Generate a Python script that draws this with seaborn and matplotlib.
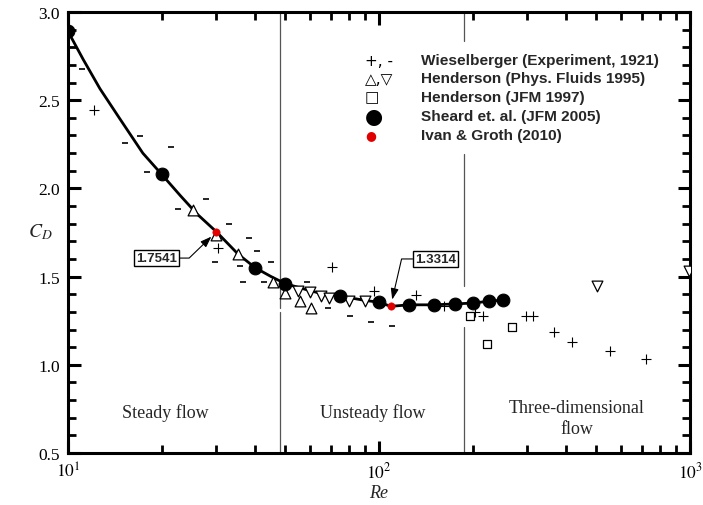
import numpy as np
import pandas as pd
import matplotlib
matplotlib.use("Agg")
import matplotlib.pyplot as plt
import seaborn as sns
from matplotlib.ticker import FixedLocator, NullFormatter, MultipleLocator

# ---------------- data ----------------
sheard_re = [10, 20, 40, 50, 75, 100, 125, 150, 175, 200, 225, 250]
sheard_cd = [2.89, 2.08, 1.55, 1.46, 1.39, 1.355, 1.34, 1.34, 1.345, 1.35, 1.36, 1.367]

ivan_re = [30, 109]
ivan_cd = [1.7541, 1.3314]

curve_re = [10, 11.2, 12.67, 14.7, 17.4, 20, 23, 26, 30, 35.2, 40, 45, 50, 60, 65, 75, 90, 100,
            109, 125, 150, 175, 200, 225, 250]
curve_cd = [2.89, 2.73, 2.565, 2.393, 2.20, 2.08, 1.958, 1.855, 1.7541, 1.628, 1.55, 1.50, 1.46,
            1.42, 1.405, 1.39, 1.365, 1.355, 1.3314, 1.34, 1.34, 1.345, 1.35, 1.36, 1.367]

wies_plus_re = [12.1, 30.4, 70.5, 96.4, 132, 162, 203, 216, 297, 313, 365, 416, 553, 720]
wies_plus_cd = [2.446, 1.664, 1.554, 1.417, 1.397, 1.332, 1.30, 1.275, 1.278, 1.278, 1.184, 1.131,
                1.078, 1.031]

wies_minus_re = [11.07, 15.2, 17.0, 18.0, 21.4, 22.6, 27.8, 33.0, 38.3, 40.5, 29.7, 35.6, 45.0,
                 36.4, 42.7, 58.8, 68.7, 80.7, 89, 94, 110]
wies_minus_cd = [2.677, 2.257, 2.299, 2.095, 2.233, 1.883, 1.94, 1.798, 1.717, 1.643, 1.584, 1.562,
                 1.584, 1.468, 1.468, 1.471, 1.320, 1.278, 1.377, 1.241, 1.222]

hend95_up_re = [25.3, 30, 35.3, 45.5, 50, 55.7, 60.3]
hend95_up_cd = [1.879, 1.736, 1.628, 1.471, 1.407, 1.363, 1.32]

hend95_dn_re = [55, 60, 65, 69.2, 80.3, 90.2, 501, 996]
hend95_dn_cd = [1.42, 1.411, 1.392, 1.379, 1.363, 1.363, 1.448, 1.530]

hend97_re = [196, 222, 267]
hend97_cd = [1.275, 1.116, 1.216]

regime_bounds = [48, 188]
region_labels = ["Steady flow", "Unsteady flow", "Three-dimensional\nflow"]

legend_symbols = ["+, -", "\u25B3,\u25BD", "\u25A1", "\u25CF", "\u25CF"]
legend_labels = ["Wieselberger (Experiment, 1921)", "Henderson (Phys. Fluids 1995)",
                 "Henderson (JFM 1997)", "Sheard et. al. (JFM 2005)", "Ivan & Groth (2010)"]

# ---------------- styling ----------------
sns.set_theme(style="ticks")
plt.rcParams["font.family"] = ["Liberation Serif", "DejaVu Serif"]
plt.rcParams["mathtext.fontset"] = "stix"

fig = plt.figure(figsize=(7.03, 5.06), dpi=100)
ax = fig.add_axes([68 / 703, 52 / 506, 622 / 703, 441 / 506])
ax.set_xscale("log")
ax.set_xlim(10, 1000)
ax.set_ylim(0.5, 3.0)

# regime boundary lines (broken where data / legend sit)
gray = "#555555"
ax.axvline(regime_bounds[0], ymin=(1.32 - 0.5) / 2.5, ymax=1.0, color=gray, lw=0.9, zorder=1)
ax.axvline(regime_bounds[0], ymin=0.0, ymax=(1.30 - 0.5) / 2.5, color=gray, lw=0.9, zorder=1)
ax.axvline(regime_bounds[1], ymin=(2.836 - 0.5) / 2.5, ymax=1.0, color=gray, lw=0.9, zorder=1)
ax.axvline(regime_bounds[1], ymin=(1.447 - 0.5) / 2.5, ymax=(2.195 - 0.5) / 2.5, color=gray, lw=0.9, zorder=1)
ax.axvline(regime_bounds[1], ymin=0.0, ymax=(1.214 - 0.5) / 2.5, color=gray, lw=0.9, zorder=1)

# curve
sns.lineplot(x=curve_re, y=curve_cd, ax=ax, color="black", lw=2.0, zorder=3, sort=True,
             estimator=None)

# Wieselberger
sns.scatterplot(x=wies_plus_re, y=wies_plus_cd, ax=ax, marker="+", s=60, color="black",
                linewidth=0.8, zorder=4)
sns.scatterplot(x=wies_minus_re, y=wies_minus_cd, ax=ax, marker="_", s=22, color="black",
                linewidth=1.2, zorder=4)
# Henderson 1995
sns.scatterplot(x=hend95_up_re, y=hend95_up_cd, ax=ax, marker="^", s=60, facecolor="white",
                edgecolor="black", linewidth=0.9, zorder=4)
sns.scatterplot(x=hend95_dn_re, y=hend95_dn_cd, ax=ax, marker="v", s=60, facecolor="white",
                edgecolor="black", linewidth=0.9, zorder=4)
# Henderson 1997
sns.scatterplot(x=hend97_re, y=hend97_cd, ax=ax, marker="s", s=40, facecolor="white",
                edgecolor="black", linewidth=0.9, zorder=4)
# Sheard
sns.scatterplot(x=sheard_re, y=sheard_cd, ax=ax, marker="o", s=85, color="black",
                edgecolor="black", zorder=5)
# Ivan & Groth
sns.scatterplot(x=ivan_re, y=ivan_cd, ax=ax, marker="o", s=28, color="#e00000",
                edgecolor="#e00000", zorder=6)

# annotations
box = dict(boxstyle="square,pad=0.15", fc="white", ec="black", lw=1.0)
arrow = dict(arrowstyle="-|>,head_length=0.7,head_width=0.25", color="black", lw=0.8,
             shrinkA=0, shrinkB=5)
ax.annotate(f"{ivan_cd[0]:.4f}", xy=(ivan_re[0], ivan_cd[0]), xytext=(19.3, 1.605),
            ha="center", va="center", fontsize=9.5, fontweight="bold",
            family="Liberation Sans", bbox=box,
            arrowprops=dict(arrow, connectionstyle="angle,angleA=0,angleB=44,rad=0"), zorder=7)
ax.annotate(f"{ivan_cd[1]:.4f}", xy=(ivan_re[1], ivan_cd[1]), xytext=(152, 1.600),
            ha="center", va="center", fontsize=9.5, fontweight="bold",
            family="Liberation Sans", bbox=box,
            arrowprops=dict(arrow, connectionstyle="angle,angleA=0,angleB=77,rad=0"), zorder=7)

# region labels
ax.text(0.157, 0.093, region_labels[0], transform=ax.transAxes, ha="center", va="center",
        fontsize=13)
ax.text(0.490, 0.093, region_labels[1], transform=ax.transAxes, ha="center", va="center",
        fontsize=13)
ax.text(0.818, 0.080, region_labels[2], transform=ax.transAxes, ha="center", va="center",
        fontsize=13, linespacing=1.3)

# legend (custom)
rows_y = [0.891, 0.850, 0.807, 0.764, 0.721]
sym_colors = ["black", "black", "black", "black", "#e00000"]
sym_sizes = [11, 11, 11, 15, 9]
for yy, sym, lab, c, fs in zip(rows_y, legend_symbols, legend_labels, sym_colors, sym_sizes):
    ax.text(0.4775, yy, sym, transform=ax.transAxes, ha="left", va="center", fontsize=fs,
            color=c, family="DejaVu Sans")
    ax.text(0.5675, yy, lab, transform=ax.transAxes, ha="left", va="center", fontsize=11.1,
            fontweight="bold", family="Liberation Sans")

# axes / ticks
for sp in ax.spines.values():
    sp.set_visible(True)
    sp.set_linewidth(2.2)
    sp.set_color("black")
ax.xaxis.set_major_locator(FixedLocator([10, 100, 1000]))
ax.set_xticklabels([r"$10^1$", r"$10^2$", r"$10^3$"])
ax.xaxis.set_minor_locator(FixedLocator([m * 10 ** d for d in (1, 2) for m in range(2, 10)]))
ax.xaxis.set_minor_formatter(NullFormatter())
ax.yaxis.set_major_locator(MultipleLocator(0.5))
ax.yaxis.set_minor_locator(MultipleLocator(0.1))
ax.set_yticklabels([f"{v:.1f}" for v in ax.get_yticks()])
ax.tick_params(which="both", direction="in", top=True, right=True, color="black",
               labelsize=12.5, labelcolor="black")
ax.tick_params(which="major", length=9, width=2.2, pad=6)
ax.tick_params(which="minor", length=6, width=2.0)
ax.grid(False)

ax.set_xlabel("Re", fontsize=13, style="italic")
ax.set_ylabel(r"$C_D$", fontsize=14, rotation=0, ha="center", va="center")
ax.yaxis.set_label_coords(-0.045, 0.503)
ax.xaxis.set_label_coords(0.5, -0.090)
ax.xaxis.label.set_va("center")

fig.savefig("out.png", dpi=100)
